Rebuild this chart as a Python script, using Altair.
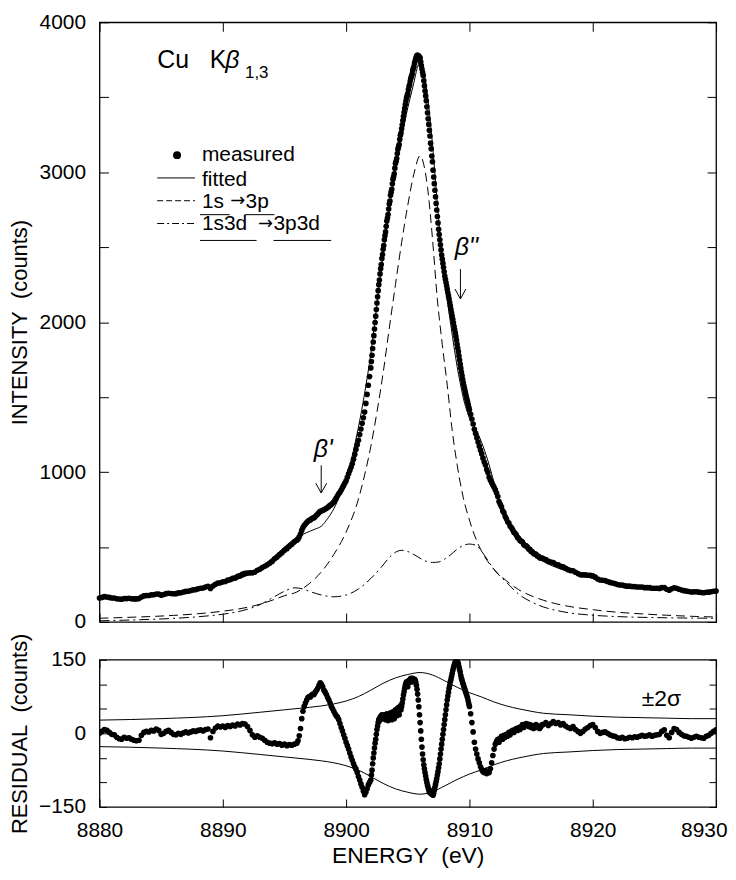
import altair as alt
import numpy as np
import pandas as pd

FONT = "Liberation Sans"
W, H1, H2 = 620, 603, 148
NB = "\u00a0"

# ---------------- measured scan: energy grid segments ----------------
seg_start = [8880.0, 8896.0, 8902.0, 8910.0, 8916.0]
seg_step = [0.2, 0.1, 0.05, 0.1, 0.2]
seg_count = [80, 60, 160, 60, 71]

meas_A = [160,164,169,167,164,160,160,155,153,152,
          157,156,158,155,154,154,156,167,174,177,
          177,181,182,187,186,179,183,189,192,190,
          188,189,194,195,200,204,205,210,214,216,
          221,225,227,233,238,223,240,251,260,262,
          268,270,279,283,291,294,305,309,319,324,
          326,328,328,333,345,352,363,372,381,392,
          404,421,433,449,461,478,489,505,518,534]
meas_B = [545,554,568,587,611,630,644,654,664,672,
          678,680,688,693,696,704,712,720,730,739,
          740,745,748,754,759,763,771,778,784,792,
          800,813,827,842,855,865,880,896,911,927,
          942,965,988,1010,1032,1055,1086,1118,1151,1182,
          1212,1250,1287,1325,1362,1400,1458,1518,1579,1637]
meas_C = [1695,1737,1779,1824,1868,1910,1954,1998,2040,2084,
          2128,2169,2210,2250,2281,2322,2357,2384,2424,2451,
          2486,2511,2550,2577,2602,2640,2674,2695,2718,2755,
          2788,2807,2846,2867,2886,2923,2954,2970,2990,3027,
          3058,3073,3092,3125,3154,3169,3185,3219,3247,3261,
          3290,3317,3345,3373,3400,3427,3452,3475,3497,3511,
          3525,3550,3572,3585,3608,3627,3640,3654,3678,3693,
          3706,3728,3744,3758,3770,3780,3780,3778,3774,3768,
          3762,3737,3712,3688,3666,3646,3610,3576,3542,3509,
          3476,3436,3396,3357,3319,3280,3242,3194,3156,3108,
          3070,3014,2968,2924,2880,2836,2792,2748,2705,2662,
          2620,2584,2550,2516,2482,2448,2420,2392,2364,2336,
          2308,2286,2264,2242,2220,2196,2175,2154,2131,2109,
          2085,2063,2041,2019,1996,1973,1951,1929,1905,1880,
          1853,1828,1803,1775,1747,1720,1693,1667,1643,1618,
          1595,1576,1557,1538,1519,1500,1484,1468,1450,1432]
meas_D = [1415,1386,1354,1321,1286,1258,1229,1200,1173,1146,
          1121,1093,1067,1047,1017,997,966,945,928,914,
          898,881,860,837,804,785,768,741,728,703,
          688,668,660,639,630,616,599,592,581,564,
          557,543,539,533,517,511,508,499,487,484,
          470,468,456,454,452,440,438,428,427,426]
meas_E = [421,417,404,400,397,385,381,371,368,358,
          349,343,342,332,323,315,314,314,312,311,
          308,299,287,280,278,276,270,264,260,256,
          250,247,246,241,239,239,236,236,233,233,
          233,229,229,229,225,225,225,224,229,230,
          218,212,222,228,225,218,213,209,206,203,
          200,201,202,199,197,195,198,199,202,205,
          207]

res_A = [0,4,8,6,2,-2,-3,-8,-11,-12,
         -8,-10,-9,-12,-14,-15,-14,-4,2,4,
         3,6,5,9,6,-2,0,4,6,2,
         -2,-3,0,-2,1,3,1,3,5,4,
         6,7,5,8,9,-9,4,11,15,13,
         15,12,16,14,17,15,19,17,20,19,
         14,6,-3,-8,-5,-8,-10,-14,-18,-20,
         -21,-19,-22,-21,-24,-22,-25,-23,-24,-22]
res_B = [-20,-15,-5,10,30,45,55,62,68,73,
         75,74,78,80,79,84,88,92,98,103,
         100,95,88,84,79,73,68,62,55,50,
         45,40,36,33,28,20,12,5,-3,-10,
         -18,-25,-32,-40,-48,-55,-62,-68,-73,-80,
         -88,-95,-103,-110,-118,-125,-120,-113,-105,-100]
res_C = [-95,-85,-75,-62,-50,-40,-30,-20,-12,-2,
         8,15,22,28,25,32,35,30,38,33,
         36,30,38,34,28,35,40,32,26,34,
         38,30,42,36,28,38,44,35,30,42,
         48,40,36,46,52,44,38,50,56,48,
         55,62,70,78,85,92,98,102,105,100,
         95,103,108,104,110,112,108,105,112,110,
         106,110,108,104,98,90,80,68,54,38,
         22,5,-12,-28,-42,-54,-64,-72,-80,-87,
         -94,-100,-106,-111,-115,-120,-116,-122,-118,-124,
         -120,-126,-122,-116,-110,-104,-98,-92,-85,-78,
         -70,-62,-52,-42,-32,-22,-12,-2,8,18,
         28,38,48,58,68,76,84,92,98,105,
         110,116,122,128,133,138,142,146,148,149,
         148,145,142,136,130,125,118,112,108,103,
         100,96,92,88,84,80,76,72,66,60]
res_D = [55,40,22,3,-18,-32,-42,-52,-60,-68,
         -74,-78,-80,-76,-82,-78,-80,-72,-60,-45,
         -32,-22,-16,-12,-18,-10,-6,-12,-4,-8,
         -2,-6,2,-3,4,6,2,8,10,6,
         12,8,14,18,12,16,20,19,14,18,
         12,16,10,14,18,12,15,10,14,18]
res_E = [18,22,16,20,24,20,22,17,20,15,
         12,10,14,8,4,0,4,9,12,16,
         18,12,4,0,2,3,0,-3,-5,-6,
         -9,-10,-8,-11,-10,-8,-9,-7,-8,-6,
         -4,-6,-5,-3,-6,-4,-3,-2,4,7,
         -4,-9,2,10,8,2,-2,-5,-6,-8,
         -10,-8,-6,-8,-9,-10,-6,-4,0,4,
         7]

# ---------------- fitted curve and components ----------------
fit_E = [8880,8881,8882,8883,8884,8885,8886,8887,8888,8889,
         8890,8891,8892,8893,8894,8895,8895.5,8896,8896.5,8897,
         8897.5,8898,8898.5,8899,8899.5,8900,8900.5,8901,8901.5,8902,
         8902.25,8902.5,8902.75,8903,8903.25,8903.5,8903.75,8904,8904.25,8904.5,
         8904.75,8905,8905.25,8905.5,8905.75,8906,8906.25,8906.5,8906.75,8907,
         8907.25,8907.5,8907.75,8908,8908.25,8908.5,8908.75,8909,8909.25,8909.5,
         8909.75,8910,8910.5,8911,8911.5,8912,8912.5,8913,8913.5,8914,
         8914.5,8915,8915.5,8916,8917,8918,8919,8920,8921,8922,
         8923,8924,8925,8926,8927,8928,8929,8930]
fit_I = [160,162,165,169,174,181,190,201,215,232,
         253,279,312,360,425,500,535,565,585,603,
         620,640,690,755,845,960,1110,1300,1525,1790,
         1950,2120,2290,2450,2605,2750,2885,3010,3125,3235,
         3335,3430,3515,3600,3690,3740,3700,3570,3400,3190,
         2940,2690,2470,2280,2120,1975,1835,1705,1595,1495,
         1420,1360,1290,1195,1075,930,795,690,610,545,
         495,458,428,403,365,337,315,290,273,259,
         247,237,229,222,216,210,205,200]

main_E = [8880,8882,8884,8886,8888,8890,8891,8892,8893,8894,
          8895,8896,8897,8898,8899,8900,8901,8901.5,8902,8902.5,
          8903,8903.5,8904,8904.5,8905,8905.5,8906,8906.3,8906.6,8907,
          8907.4,8907.8,8908.2,8908.6,8909,8909.5,8910,8910.5,8911,8912,
          8913,8914,8915,8916,8917,8918,8920,8922,8924,8926,
          8928,8930]
main_I = [25,30,36,44,55,72,83,98,118,145,
          175,200,255,335,450,600,820,980,1170,1400,
          1660,1960,2250,2530,2780,2990,3110,3050,2900,2560,
          2150,1850,1580,1280,1050,830,680,560,470,350,
          275,215,175,145,122,105,82,65,54,45,
          38,33]

sat_E = [8880,8882,8884,8886,8888,8890,8891,8892,8893,8894,
         8895,8895.8,8896.5,8897,8898,8899,8900,8901,8902,8903,
         8903.5,8904,8904.5,8905,8905.5,8906,8906.5,8907,8907.5,8908,
         8908.5,8909,8909.5,8910,8910.5,8911,8911.5,8912,8913,8914,
         8915,8916,8917,8918,8920,8922,8924,8926,8928,8930]
sat_I = [8,12,17,24,35,52,65,85,115,160,
         205,228,220,205,180,168,180,220,290,380,
         430,465,478,470,450,425,405,397,400,420,
         450,485,510,520,512,470,410,350,265,185,
         135,100,78,62,45,36,31,28,26,25]

sig_E = [8880,8885,8890,8893,8895,8897,8898,8899,8900,8901,
         8902,8903,8904,8905,8906,8907,8908,8909,8910,8911,
         8912,8913,8914,8915,8916,8918,8920,8922,8924,8926,
         8928,8930]
sig_up = [27,30,36,43,48,53,56,60,66,75,
          88,102,113,120,124,119,107,94,83,74,
          64,56,50,45,41,38,35,33,32,31,
          30,30]
sig_lo = [-27,-30,-36,-43,-48,-53,-56,-60,-66,-75,
          -88,-102,-113,-120,-124,-119,-107,-94,-83,-74,
          -64,-56,-50,-45,-41,-38,-35,-33,-32,-31,
          -30,-30]

# axis tick values
x_ticks = [8880, 8890, 8900, 8910, 8920, 8930]
top_y_ticks = [0, 500, 1000, 1500, 2000, 2500, 3000, 3500, 4000]
bot_y_ticks = [-150, -100, -50, 0, 50, 100, 150]

# ---------------- data frames ----------------
energy = np.concatenate([np.round(s + d * np.arange(n), 2)
                         for s, d, n in zip(seg_start, seg_step, seg_count)])
measured = meas_A + meas_B + meas_C + meas_D + meas_E
residual = res_A + res_B + res_C + res_D + res_E
meas_df = pd.DataFrame({"E": energy, "I": measured})
res_df = pd.DataFrame({"E": energy, "R": residual})
fit_df = pd.DataFrame({"E": fit_E, "I": fit_I})
main_df = pd.DataFrame({"E": main_E, "I": main_I})
sat_df = pd.DataFrame({"E": sat_E, "I": sat_I})
sig_df = pd.DataFrame({"E": sig_E + sig_E, "R": sig_up + sig_lo,
                       "side": ["up"] * len(sig_E) + ["lo"] * len(sig_E)})

# ---------------- scales / axes ----------------
xs = alt.Scale(domain=[8880, 8930], nice=False, zero=False)
ys_top = alt.Scale(domain=[0, 4000], nice=False, zero=False)
ys_bot = alt.Scale(domain=[-150, 150], nice=False, zero=False)

ax_x_top = alt.Axis(values=x_ticks, labels=False, ticks=False, tickSize=0, domain=False,
                    title=None, grid=True, gridDash=[9, H1 - 18, 9, 3000])
ax_y_top = alt.Axis(values=top_y_ticks, format="d",
                    labelExpr="datum.value % 1000 == 0 ? datum.label : ''",
                    ticks=False, tickSize=0, domain=False, labelPadding=14,
                    grid=True, gridDash=[9, W - 18, 9, 3000],
                    title=f"INTENSITY{NB}{NB}(counts)", titleX=-90, titleBaseline="top")
ax_x_bot = alt.Axis(values=x_ticks, format="d", ticks=False, tickSize=0, domain=False,
                    labelPadding=13, grid=True, gridDash=[8, H2 - 16, 8, 3000],
                    labelAlign={"condition": {"test": "datum.value == 8930", "value": "right"},
                                "value": "center"},
                    labelOffset={"condition": {"test": "datum.value == 8930", "value": 11},
                                 "value": 0},
                    title=f"ENERGY{NB}{NB}(eV)", titlePadding=4, titleFontSize=23)
ax_y_bot = alt.Axis(values=bot_y_ticks, format="d",
                    labelExpr="abs(datum.value) == 150 || datum.value == 0 ? datum.label : ''",
                    ticks=False, tickSize=0, domain=False, labelPadding=14,
                    grid=True, gridDash=[7, W - 14, 7, 3000],
                    title=f"RESIDUAL{NB}{NB}(counts)", titleX=-90, titleBaseline="top")


def XT(field="E"):
    return alt.X(f"{field}:Q", scale=xs, axis=ax_x_top)


def YT(field="I"):
    return alt.Y(f"{field}:Q", scale=ys_top, axis=ax_y_top)


def XB(field="E"):
    return alt.X(f"{field}:Q", scale=xs, axis=ax_x_bot)


def YB(field="R"):
    return alt.Y(f"{field}:Q", scale=ys_bot, axis=ax_y_bot)


DOT = 32

# ---------------- annotations (top panel, data coordinates) ----------------
title_df = pd.DataFrame({"E": [8884.68, 8888.95], "I": [3695, 3695], "t": ["Cu", "K"]})
title_beta = pd.DataFrame({"E": [8890.2], "I": [3695], "t": ["β"]})
title_sub = pd.DataFrame({"E": [8891.8], "I": [3630], "t": ["1,3"]})

leg_text = pd.DataFrame({
    "E": [8888.31, 8888.31, 8888.31, 8891.85, 8888.31, 8894.11],
    "I": [3074, 2909, 2764, 2764, 2612, 2612],
    "t": ["measured", "fitted", "1s", "3p", "1s3d", "3p3d"]})
leg_arrow = pd.DataFrame({"E": [8890.6, 8892.85], "I": [2775, 2623], "t": ["→", "→"]})
leg_under = pd.DataFrame({"E": [8888.15, 8891.77, 8888.15, 8894.11],
                          "E2": [8890.56, 8894.19, 8892.74, 8898.79],
                          "I": [2717, 2717, 2545, 2545]})
leg_dot = pd.DataFrame({"E": [8886.29], "I": [3114]})
leg_solid = pd.DataFrame({"E": [8884.68], "E2": [8887.74], "I": [2962]})
leg_dash = pd.DataFrame({"E": [8884.68], "E2": [8887.74], "I": [2810]})
leg_dashdot = pd.DataFrame({"E": [8884.68], "E2": [8887.74], "I": [2658]})

beta_lab = pd.DataFrame({"E": [8898.15, 8909.76], "I": [1098, 2446], "t": ["β'", "β''"]})
arrow_shaft = pd.DataFrame({"E": [8897.98, 8909.27], "I": [1045, 2354], "I2": [862, 2157]})
arrow_head = pd.DataFrame({"E": [8897.98, 8909.27], "I": [860, 2155]})

sigma_lab = pd.DataFrame({"E": [8925.56], "R": [55], "t": ["±2σ"]})

# ---------------- top panel ----------------
fitted = alt.Chart(fit_df).mark_line(color="black", strokeWidth=1, interpolate="monotone").encode(x=XT(), y=YT())
main = alt.Chart(main_df).mark_line(color="black", strokeWidth=1, strokeDash=[9, 5],
                                    interpolate="monotone").encode(x=XT(), y=YT())
sat = alt.Chart(sat_df).mark_line(color="black", strokeWidth=1, strokeDash=[10, 4, 2, 4],
                                  interpolate="monotone").encode(x=XT(), y=YT())
dots = alt.Chart(meas_df).mark_circle(color="black", opacity=1, size=DOT).encode(x=XT(), y=YT())

t_title = alt.Chart(title_df).mark_text(align="left", baseline="alphabetic", fontSize=25,
                                        font=FONT, color="black").encode(x=XT(), y=YT(), text="t:N")
t_beta = alt.Chart(title_beta).mark_text(align="left", baseline="alphabetic", fontSize=25,
                                         fontStyle="italic", font=FONT, color="black").encode(x=XT(), y=YT(), text="t:N")
t_sub = alt.Chart(title_sub).mark_text(align="left", baseline="alphabetic", fontSize=17,
                                       font=FONT, color="black").encode(x=XT(), y=YT(), text="t:N")
t_leg = alt.Chart(leg_text).mark_text(align="left", baseline="alphabetic", fontSize=21,
                                      font=FONT, color="black").encode(x=XT(), y=YT(), text="t:N")
t_arr = alt.Chart(leg_arrow).mark_text(align="left", baseline="alphabetic", fontSize=18,
                                       font="DejaVu Sans", color="black").encode(x=XT(), y=YT(), text="t:N")
r_under = alt.Chart(leg_under).mark_rule(color="black", strokeWidth=1).encode(
    x=XT(), x2=alt.X2("E2:Q"), y=YT())
l_dot = alt.Chart(leg_dot).mark_circle(color="black", opacity=1, size=64).encode(x=XT(), y=YT())
l_solid = alt.Chart(leg_solid).mark_rule(color="black", strokeWidth=1).encode(x=XT(), x2=alt.X2("E2:Q"), y=YT())
l_dash = alt.Chart(leg_dash).mark_rule(color="black", strokeWidth=1, strokeDash=[6, 3]).encode(
    x=XT(), x2=alt.X2("E2:Q"), y=YT())
l_dashdot = alt.Chart(leg_dashdot).mark_rule(color="black", strokeWidth=1, strokeDash=[7, 3, 2, 3]).encode(
    x=XT(), x2=alt.X2("E2:Q"), y=YT())
t_beta_lab = alt.Chart(beta_lab).mark_text(align="center", baseline="alphabetic", fontSize=25,
                                           fontStyle="italic", font=FONT, color="black").encode(
    x=XT(), y=YT(), text="t:N")
a_shaft = alt.Chart(arrow_shaft).mark_rule(color="black", strokeWidth=1).encode(
    x=XT(), y=YT(), y2=alt.Y2("I2:Q"))
a_head = alt.Chart(arrow_head).mark_point(shape="M-0.55,-1L0,0L0.55,-1", filled=False, color="black",
                                          strokeWidth=1, size=400, opacity=1).encode(x=XT(), y=YT())

top = alt.layer(fitted, main, sat, dots, t_title, t_beta, t_sub, t_leg, t_arr, r_under,
                l_dot, l_solid, l_dash, l_dashdot, t_beta_lab, a_shaft, a_head).properties(width=W, height=H1)

# ---------------- bottom panel ----------------
sig_lines = alt.Chart(sig_df).mark_line(color="black", strokeWidth=1, interpolate="monotone").encode(
    x=XB(), y=YB(), detail="side:N")
res_dots = alt.Chart(res_df).mark_circle(color="black", opacity=1, size=DOT, clip=True).encode(x=XB(), y=YB())
t_sigma = alt.Chart(sigma_lab).mark_text(align="center", baseline="alphabetic", fontSize=23,
                                         font=FONT, color="black").encode(x=XB(), y=YB(), text="t:N")

bottom = alt.layer(sig_lines, res_dots, t_sigma).properties(width=W, height=H2)

chart = alt.vconcat(top, bottom, spacing=38, bounds="flush").properties(
    padding=0
).configure_axis(
    labelFont=FONT, titleFont=FONT, labelFontSize=21, titleFontSize=22,
    titleFontWeight="normal", labelColor="black", titleColor="black",
    gridColor="black", gridOpacity=1, gridWidth=1
).configure_view(stroke="black", strokeWidth=1.3)

chart.save("out.html", embed_options={"renderer": "svg", "actions": False})
